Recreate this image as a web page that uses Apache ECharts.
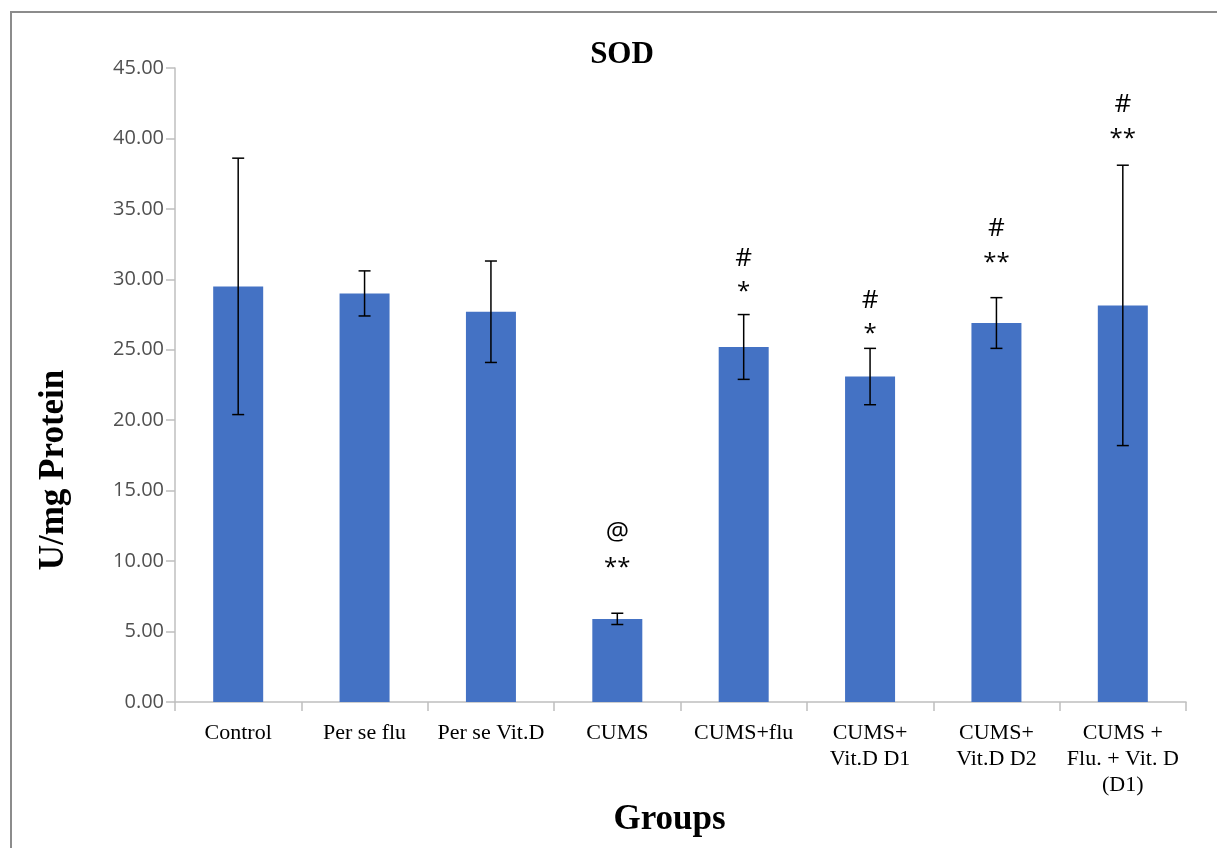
<!DOCTYPE html>
<html>
<head>
<meta charset="utf-8">
<script src="https://cdn.jsdelivr.net/npm/echarts@6/dist/echarts.min.js"></script>
<style>
html,body{margin:0;padding:0;background:#fff;}
#chart{width:1217px;height:848px;}
</style>
</head>
<body>
<div id="chart"></div>
<script>
// ---- data ----
var categories = ['Control', 'Per se flu', 'Per se Vit.D', 'CUMS', 'CUMS+flu', 'CUMS+\nVit.D D1', 'CUMS+\nVit.D D2', 'CUMS +\nFlu. + Vit. D\n(D1)'];
var means = [29.5, 29.0, 27.7, 5.9, 25.2, 23.1, 26.9, 28.15];
var sds = [9.1, 1.6, 3.6, 0.4, 2.3, 2.0, 1.8, 9.95];
// significance marks: [category index, y value of mark centre, text]
var upperMarks = [[3, 12.0, '@'], [4, 31.5, '#'], [5, 28.5, '#'], [6, 33.6, '#'], [7, 42.4, '#']];
var lowerMarks = [[3, 9.8, '**'], [4, 29.4, '*'], [5, 26.4, '*'], [6, 31.4, '**'], [7, 40.2, '**']];
var yTicks = [0, 5, 10, 15, 20, 25, 30, 35, 40, 45];

var errData = means.map(function (m, i) { return [i, m - sds[i], m + sds[i]]; });

var chart = echarts.init(document.getElementById('chart'));

function markSeries(data, fontSize, dy) {
  return {
    type: 'custom',
    data: data,
    z: 5,
    renderItem: function (params, api) {
      var p = api.coord([api.value(0), api.value(1)]);
      return {
        type: 'text',
        x: p[0],
        y: p[1] + dy,
        style: {
          text: data[params.dataIndex][2],
          fill: '#000',
          font: fontSize + 'px "Open Sans"',
          align: 'center',
          verticalAlign: 'middle'
        }
      };
    }
  };
}

chart.setOption({
  animation: false,
  backgroundColor: '#fff',
  title: {
    text: 'SOD',
    left: 617,
    top: 34,
    textAlign: 'center',
    textStyle: { fontFamily: 'Liberation Serif', fontWeight: 'bold', fontSize: 31, color: '#000' }
  },
  graphic: [{
    type: 'rect',
    shape: { x: 11, y: 12, width: 1300, height: 900 },
    style: { fill: 'none', stroke: '#8c8c8c', lineWidth: 2 },
    silent: true
  }],
  grid: { left: 175, right: 31, top: 68, bottom: 146 },
  xAxis: {
    type: 'category',
    data: categories,
    name: 'Groups',
    nameLocation: 'middle',
    nameGap: 98,
    nameTextStyle: { fontFamily: 'Liberation Serif', fontWeight: 'bold', fontSize: 35, color: '#000', padding: [0, 22, 0, 0] },
    axisLine: { lineStyle: { color: '#bfbfbf', width: 1.5 } },
    axisTick: { show: true, length: 9, lineStyle: { color: '#bfbfbf', width: 1.5 } },
    axisLabel: {
      interval: 0,
      margin: 18,
      fontFamily: 'Liberation Serif',
      fontSize: 22,
      lineHeight: 26,
      color: '#000'
    }
  },
  yAxis: {
    type: 'value',
    min: 0,
    max: 45,
    interval: 5,
    name: 'U/mg Protein',
    nameLocation: 'middle',
    nameRotate: 90,
    nameGap: 104,
    nameTextStyle: { fontFamily: 'Liberation Serif', fontWeight: 'bold', fontSize: 35, color: '#000', padding: [0, 170, 0, 0] },
    splitLine: { show: false },
    axisLine: { show: true, lineStyle: { color: '#bfbfbf', width: 1.5 } },
    axisTick: { show: true, length: 9, lineStyle: { color: '#bfbfbf', width: 1.5 } },
    axisLabel: {
      margin: 11,
      fontFamily: 'Open Sans',
      fontSize: 20,
      color: '#505050',
      formatter: function (v) { return yTicks.indexOf(v) >= 0 ? v.toFixed(2) : ''; }
    }
  },
  series: [
    {
      type: 'bar',
      data: means,
      barWidth: 50,
      itemStyle: { color: '#4472C4' },
      z: 2
    },
    {
      type: 'custom',
      data: errData,
      z: 4,
      renderItem: function (params, api) {
        var lo = api.coord([api.value(0), api.value(1)]);
        var hi = api.coord([api.value(0), api.value(2)]);
        var x = lo[0], cw = 6;
        var st = { stroke: '#000', lineWidth: 1.5 };
        return {
          type: 'group',
          children: [
            { type: 'line', shape: { x1: x, y1: lo[1], x2: x, y2: hi[1] }, style: st },
            { type: 'line', shape: { x1: x - cw, y1: hi[1], x2: x + cw, y2: hi[1] }, style: st },
            { type: 'line', shape: { x1: x - cw, y1: lo[1], x2: x + cw, y2: lo[1] }, style: st }
          ]
        };
      }
    },
    markSeries(upperMarks, 26, 0),
    markSeries(lowerMarks, 24, 4)
  ]
});
</script>
</body>
</html>
